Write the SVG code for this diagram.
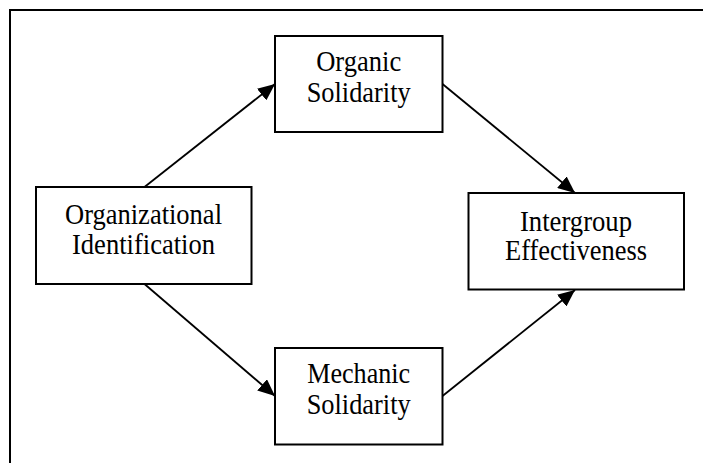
<svg xmlns="http://www.w3.org/2000/svg" width="703" height="463" viewBox="0 0 703 463">
  <style>
    .box { fill: #ffffff; stroke: #000000; stroke-width: 2; }
    .frame { fill: none; stroke: #000000; stroke-width: 2; }
    .edge { stroke: #000000; stroke-width: 1.8; fill: none; }
    .lbl { font-family: "Liberation Serif", "Times New Roman", serif; font-size: 29px; fill: #000000; text-anchor: middle; }
  </style>
  <defs>
    <marker id="arrow" viewBox="0 0 17 15" refX="17" refY="7.5" markerWidth="17" markerHeight="15" markerUnits="userSpaceOnUse" orient="auto">
      <path d="M0,0 L17,7.5 L0,15 Z" fill="#000000"/>
    </marker>
  </defs>

  <rect x="10" y="10" width="740" height="500" class="frame"/>

  <g id="connectors">
    <line class="edge" x1="144.5" y1="187" x2="275" y2="84" marker-end="url(#arrow)"/>
    <line class="edge" x1="442.5" y1="84" x2="575" y2="193" marker-end="url(#arrow)"/>
    <line class="edge" x1="144.5" y1="284" x2="275" y2="396" marker-end="url(#arrow)"/>
    <line class="edge" x1="442.5" y1="396" x2="575" y2="290" marker-end="url(#arrow)"/>
  </g>

  <g id="organizational-identification">
    <rect class="box" x="36" y="187" width="215.5" height="97"/>
    <text class="lbl" x="143.5" y="223.5" textLength="157" lengthAdjust="spacingAndGlyphs">Organizational</text>
    <text class="lbl" x="143.5" y="253.5" textLength="143" lengthAdjust="spacingAndGlyphs">Identification</text>
  </g>

  <g id="organic-solidarity">
    <rect class="box" x="275" y="36" width="167.5" height="96"/>
    <text class="lbl" x="358.7" y="71" textLength="85" lengthAdjust="spacingAndGlyphs">Organic</text>
    <text class="lbl" x="358.7" y="101.5" textLength="104" lengthAdjust="spacingAndGlyphs">Solidarity</text>
  </g>

  <g id="mechanic-solidarity">
    <rect class="box" x="275" y="348" width="167.5" height="96.5"/>
    <text class="lbl" x="358.7" y="383" textLength="103" lengthAdjust="spacingAndGlyphs">Mechanic</text>
    <text class="lbl" x="358.7" y="413.5" textLength="104" lengthAdjust="spacingAndGlyphs">Solidarity</text>
  </g>

  <g id="intergroup-effectiveness">
    <rect class="box" x="468.5" y="193" width="215.5" height="96.5"/>
    <text class="lbl" x="576" y="231" textLength="112" lengthAdjust="spacingAndGlyphs">Intergroup</text>
    <text class="lbl" x="576" y="260" textLength="142" lengthAdjust="spacingAndGlyphs">Effectiveness</text>
  </g>
</svg>
